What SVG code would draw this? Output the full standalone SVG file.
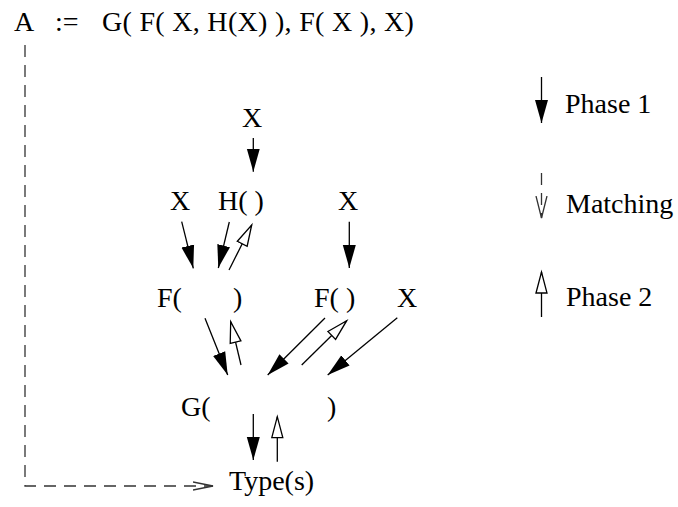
<svg xmlns="http://www.w3.org/2000/svg" width="678" height="507" viewBox="0 0 678 507">
<style>
text { font-family: "Liberation Serif", "Times New Roman", serif; font-size: 28px; fill: #000; }
.p1 { stroke: #000; stroke-width: 1.3; fill: none; marker-end: url(#solid); }
.p2 { stroke: #000; stroke-width: 1.3; fill: none; marker-end: url(#open); }
.dash { stroke: #333; stroke-width: 1.3; fill: none; stroke-dasharray: 12 8; }
</style>
<defs>
<marker id="solid" markerUnits="userSpaceOnUse" markerWidth="26" markerHeight="16" refX="23" refY="7" orient="auto">
<path d="M0,0.5 L23,7 L0,13.5 z" fill="#000"/>
</marker>
<marker id="open" markerUnits="userSpaceOnUse" markerWidth="26" markerHeight="16" refX="22" refY="7" orient="auto">
<path d="M1,1.5 L22,7 L1,12.5 z" fill="#fff" stroke="#000" stroke-width="1.3"/>
</marker>
<marker id="vopen" markerUnits="userSpaceOnUse" markerWidth="26" markerHeight="16" refX="22" refY="7" orient="auto">
<path d="M0,1.5 L22,7 L0,12.5" fill="none" stroke="#333" stroke-width="1.3"/>
</marker>
<marker id="chev" markerUnits="userSpaceOnUse" markerWidth="24" markerHeight="12" refX="20" refY="5" orient="auto">
<path d="M0,1 L20,5 L0,9" fill="none" stroke="#333" stroke-width="1.3"/>
</marker>
</defs>

<g id="definition">
<text x="14" y="31">A</text>
<text x="55" y="31">:=</text>
<text x="102" y="31" letter-spacing="0.3">G( F( X, H(X) ), F( X ), X)</text>
</g>

<g id="x-top"><text x="242" y="127">X</text></g>
<g id="x-left"><text x="170" y="210">X</text></g>
<g id="h"><text x="218" y="210">H( )</text></g>
<g id="x-right"><text x="338" y="210">X</text></g>
<g id="f-left"><text x="157" y="307">F(</text><text x="233" y="307">)</text></g>
<g id="f-right"><text x="314" y="307">F( )</text></g>
<g id="x-far"><text x="397" y="307">X</text></g>
<g id="g"><text x="181" y="416">G(</text><text x="327" y="416">)</text></g>
<g id="types"><text x="229" y="490">Type(s)</text></g>

<g id="legend">
<path class="p1" d="M541.5,77 L541.5,123"/>
<text x="565" y="113">Phase 1</text>
<path class="dash" d="M541.5,173 L541.5,218" stroke-dasharray="12 12 30" marker-end="url(#vopen)"/>
<text x="566" y="213">Matching</text>
<path class="p2" d="M541.5,317 L541.5,272"/>
<text x="566" y="306">Phase 2</text>
</g>

<g id="connectors">
<path class="dash" d="M25,45 L25,486 L213,486" marker-end="url(#chev)"/>
<path class="p1" d="M253.3,138 L253.3,171.7"/>
<path class="p1" d="M181.7,221.7 L193.3,268.3"/>
<path class="p1" d="M229.3,222 L218.3,268"/>
<path class="p2" d="M229,270 L251.7,225"/>
<path class="p1" d="M349.3,221.7 L349.3,268"/>
<path class="p1" d="M205,318.3 L227.7,375"/>
<path class="p2" d="M241,365 L230.7,321.7"/>
<path class="p1" d="M325,318 L267.7,375"/>
<path class="p2" d="M301.7,365 L346.7,320.7"/>
<path class="p1" d="M397.3,317.7 L327.7,375"/>
<path class="p1" d="M253.3,414 L253.3,460"/>
<path class="p2" d="M277.3,461.7 L277.3,416.7"/>
</g>
</svg>
